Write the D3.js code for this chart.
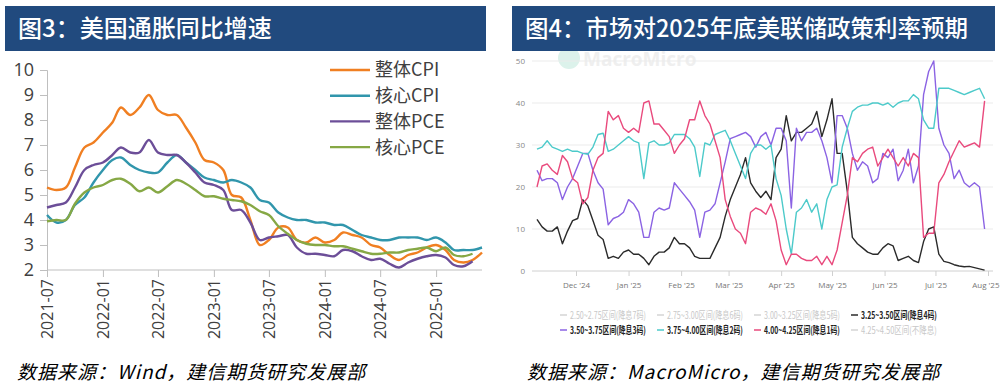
<!DOCTYPE html>
<html>
<head>
<meta charset="utf-8">
<script src="https://cdn.jsdelivr.net/npm/d3@7/dist/d3.min.js"></script>
<style>
  body { margin: 0; background: #fff; }
  svg { display: block; font-family: "Noto Sans CJK SC", "Noto Sans", sans-serif; }
</style>
</head>
<body>
<svg id="chart" width="1001" height="386"></svg>
<script>
// ---- left chart data (monthly, 2021-07 .. 2025-06) ----
let cpi_start = "2021-07";
let cpi_ticks = ["2021-07", "2022-01", "2022-07", "2023-01", "2023-07", "2024-01", "2024-07", "2025-01"];
let y_ticks_left = [2, 3, 4, 5, 6, 7, 8, 9, 10];
let headline_cpi = [5.3, 5.2, 5.3, 6.1, 6.9, 7.1,
  7.5, 7.9, 8.5, 8.2, 8.5, 9.0, 8.4, 8.2, 8.2, 7.7, 7.1, 6.4,
  6.3, 6.0, 5.0, 4.9, 4.0, 3.0, 3.2, 3.7, 3.7, 3.2, 3.1, 3.3,
  3.1, 3.2, 3.5, 3.4, 3.3, 3.0, 2.9, 2.6, 2.4, 2.6, 2.7, 2.9,
  3.0, 2.8, 2.4, 2.3, 2.4, 2.7];
let core_cpi = [4.2, 3.9, 4.0, 4.6, 4.9, 5.5,
  6.0, 6.4, 6.5, 6.2, 6.0, 5.9, 5.9, 6.3, 6.6, 6.3, 6.0, 5.7,
  5.6, 5.5, 5.6, 5.5, 5.3, 4.8, 4.7, 4.3, 4.1, 4.0, 4.0, 3.9,
  3.9, 3.8, 3.8, 3.6, 3.4, 3.3, 3.2, 3.2, 3.3, 3.3, 3.3, 3.2,
  3.3, 3.1, 2.8, 2.8, 2.8, 2.9];
let headline_pce = [4.5, 4.6, 4.7, 5.3, 6.0, 6.2,
  6.3, 6.6, 6.9, 6.7, 6.7, 7.2, 6.7, 6.6, 6.6, 6.3, 5.9, 5.5,
  5.4, 5.2, 4.4, 4.4, 3.9, 3.2, 3.3, 3.35, 3.4, 2.9, 2.65, 2.65,
  2.6, 2.55, 2.8, 2.75, 2.55, 2.4, 2.45, 2.25, 2.1, 2.3, 2.45, 2.55,
  2.6, 2.5, 2.2, 2.15, 2.35];
let core_pce = [3.95, 4.0, 4.0, 4.65, 5.1, 5.3,
  5.4, 5.6, 5.65, 5.45, 5.15, 5.3, 5.1, 5.35, 5.6, 5.45, 5.2, 4.95,
  4.95, 4.85, 4.8, 4.75, 4.6, 4.35, 4.2, 3.75, 3.45, 3.2, 3.05, 3.0,
  3.0, 2.95, 2.95, 2.85, 2.75, 2.65, 2.65, 2.7, 2.7, 2.8, 2.85, 2.9,
  2.75, 2.9, 2.6, 2.55, 2.65];
let left_names = ["整体CPI", "核心CPI", "整体PCE", "核心PCE"];
let left_colors = ["#f07f22", "#3196ac", "#6c4e98", "#86a845"];

// ---- right chart data (every 3 days from 2024-11-08) ----
let rate_start = "2024-11-08";
let rate_step_days = 3;
let x_ticks_right = ["2024-12-01", "2025-01-01", "2025-02-01", "2025-03-01", "2025-04-01", "2025-05-01", "2025-06-01", "2025-07-01", "2025-08-01"];
let x_tick_labels_right = ["Dec '24", "Jan '25", "Feb '25", "Mar '25", "Apr '25", "May '25", "Jun '25", "Jul '25", "Aug '25"];
let y_ticks_right = [0, 10, 20, 30, 40, 50];
let p_325_350 = [12.3, 10.5, 9.5, 9.5, 10.5, 6.5, 9.5, 12, 12.5, 17, 15.5, 12, 8.5, 7.5, 3, 3.5, 3, 4.5, 5, 4, 4,
  3, 1.5, 3.5, 4.5, 4.5, 5.5, 8, 6.5, 6.5, 5.5, 3.5, 3, 3, 3, 5.5, 8, 13, 17, 20, 23, 27,
  21, 19, 17.5, 19, 17, 27, 29, 37, 31, 33, 33, 34, 35, 38, 32, 36, 41, 28, 28, 19, 8, 6.5, 5.5,
  4.5, 4, 4, 5.5, 6.5, 6, 2.5, 3, 3.5, 2.5, 2, 7, 10, 10.5, 4, 2.3, 2, 1.5, 1.2, 1, 1.1, 0.8, 0.5, 0.2];
let p_350_375 = [24, 21.5, 22, 22, 21, 17, 20, 22, 25, 28, 28, 24, 21, 19.5, 11, 12.5, 13, 14, 17, 16, 14,
  8, 8, 14, 15, 14.5, 15, 21, 19.5, 18, 16.5, 14.5, 8, 14, 14.5, 16, 21, 26, 31.5, 32, 32.5, 33,
  32, 29.5, 32, 33, 30, 34, 34, 31, 15, 34, 31, 33, 33, 34, 31, 27, 21, 37, 37, 34, 28, 24, 26,
  25, 21, 22, 28, 27, 29, 21.5, 24, 29, 21, 25, 42, 47.5, 50, 34, 30, 28, 22, 24, 21, 20, 21, 20, 10];
let p_375_400 = [29, 29.5, 31, 29.5, 29, 28.5, 29, 28.5, 28.5, 28, 27.8, 29.5, 32.5, 32.8, 28.5, 29, 30, 31, 32, 31, 30.5,
  22, 30.5, 31, 30, 30, 30.5, 32.5, 32.5, 32.5, 31.5, 29.5, 22.5, 30.5, 30, 32.5, 33, 33.5, 31, 28, 25, 22,
  28, 30, 30, 29, 30, 22, 18, 10, 4, 14, 15, 17, 14, 16, 10, 17, 20, 20.5, 29.5, 34, 38, 39, 39.5,
  39.5, 40, 40, 39.5, 40, 39, 40, 40.5, 40.5, 42, 41, 36, 34, 34, 43.5, 43.5, 43.5, 43, 42.5, 42, 42.5, 43, 43.5, 41];
let p_400_425 = [20, 25, 25.5, 24, 23, 27.5, 26, 22, 21, 16, 17.5, 24, 27, 28, 38, 36, 37, 34, 33, 34, 33,
  40, 40.5, 35, 35, 33.5, 32, 28, 30, 31.5, 36, 36, 40.5, 37, 35, 31, 27, 17, 13, 10, 9, 6.5,
  14, 15, 14.5, 13.5, 16, 12, 5, 1.5, 4, 4, 3, 2.5, 2.5, 3.5, 1.5, 3.5, 1.5, 5, 11.5, 18, 27, 26, 28,
  29, 29.5, 25, 27, 29, 27, 25, 27, 25, 28, 27, 8, 9, 9, 21, 23, 26, 28.5, 31, 29.5, 30, 30.5, 29.5, 40.5];
let legend_labels_right = ["2.50~2.75区间(降息7码)", "2.75~3.00区间(降息6码)", "3.00~3.25区间(降息5码)", "3.25~3.50区间(降息4码)",
  "3.50~3.75区间(降息3码)", "3.75~4.00区间(降息2码)", "4.00~4.25区间(降息1码)", "4.25~4.50区间(不降息)"];
let legend_colors_right = ["#d4d4d4", "#d4d4d4", "#d4d4d4", "#2b2b2b", "#8b63e3", "#4ccaca", "#e94a7d", "#d4d4d4"];
let legend_active_right = [false, false, false, true, true, true, true, false];

let svg = d3.select("#chart");

// header bars
function draw_header(x, w, title, size) {
  svg.append("rect").attr("x", x).attr("y", 6).attr("width", w).attr("height", 45).attr("fill", "#214a7e");
  svg.append("text").attr("x", x + 13).attr("y", 37)
    .attr("fill", "#fff").attr("font-size", size).attr("font-weight", 500)
    .text(title);
}

// ---------------- left chart ----------------
let parse_month = d3.timeParse("%Y-%m");
let months = d3.range(headline_cpi.length).map(i => d3.timeMonth.offset(parse_month(cpi_start), i));

let x_left = d3.scaleTime().domain([months[0], months[months.length - 1]]).range([47, 482]);
let y_left = d3.scaleLinear().domain([2, 10]).range([270, 70]);

let g_left = svg.append("g");

let y_axis_left = d3.axisLeft(y_left).tickValues(y_ticks_left).tickSize(7).tickPadding(6).tickFormat(d3.format("d"));
g_left.append("g").attr("transform", "translate(47,0)").call(y_axis_left)
  .call(g => g.select(".domain").attr("stroke", "#bfbfbf"))
  .call(g => g.selectAll(".tick line").attr("stroke", "#bfbfbf"))
  .call(g => g.selectAll(".tick text").attr("font-size", 18).attr("fill", "#404040").attr("font-family", "'Open Sans', sans-serif"));

let x_axis_left = d3.axisBottom(x_left).tickValues(cpi_ticks.map(parse_month)).tickSize(7).tickFormat(d3.timeFormat("%Y-%m"));
g_left.append("g").attr("transform", "translate(0,270)").call(x_axis_left)
  .call(g => g.select(".domain").attr("stroke", "#bfbfbf").attr("d", "M47,0H482"))
  .call(g => g.selectAll(".tick line").attr("stroke", "#bfbfbf"))
  .call(g => g.selectAll(".tick text")
    .attr("font-size", 16).attr("fill", "#404040").attr("font-family", "'Open Sans', sans-serif")
    .attr("text-anchor", "end").attr("dy", "0.35em")
    .attr("transform", "translate(0,9) rotate(-90)").attr("x", 0).attr("y", 0));

let left_series = [headline_cpi, core_cpi, headline_pce, core_pce];
let line_left = d3.line()
  .x((d, i) => x_left(months[i]))
  .y(d => y_left(d))
  .curve(d3.curveCatmullRom.alpha(0.5));

left_series.forEach((s, k) => {
  g_left.append("path").datum(s)
    .attr("fill", "none").attr("stroke", left_colors[k]).attr("stroke-width", 2.4)
    .attr("d", line_left);
});

// legend
let legend_left = g_left.selectAll(".leg").data(left_names).enter().append("g")
  .attr("transform", (d, i) => "translate(330," + (70 + i * 25.7) + ")");
legend_left.append("line").attr("x1", 0).attr("x2", 40).attr("stroke", (d, i) => left_colors[i]).attr("stroke-width", 2.4);
legend_left.append("text").attr("x", 45).attr("dy", "0.36em").attr("font-size", 18).attr("fill", "#404040").text(d => d);

// ---------------- right chart ----------------
let parse_day = d3.timeParse("%Y-%m-%d");
let days = d3.range(p_325_350.length).map(i => d3.timeDay.offset(parse_day(rate_start), i * rate_step_days));

let x_right = d3.scaleTime().domain([parse_day(rate_start), parse_day("2025-08-01")]).range([537, 988]);
let y_right = d3.scaleLinear().domain([0, 50]).range([271, 61]);

let g_right = svg.append("g");

// watermark
g_right.append("circle").attr("cx", 569).attr("cy", 58).attr("r", 11).attr("fill", "#dcf2eb");
g_right.append("text").attr("x", 583).attr("y", 66).attr("font-size", 19).attr("font-weight", 700)
  .attr("fill", "#efefef").attr("font-family", "'Open Sans', sans-serif").text("MacroMicro");

// grid
g_right.selectAll(".grid").data(y_ticks_right).enter().append("line")
  .attr("x1", 532).attr("x2", 993)
  .attr("y1", d => y_right(d)).attr("y2", d => y_right(d))
  .attr("stroke", d => d == 0 ? "#d0d0d0" : "#ebebeb").attr("stroke-width", 1);

g_right.selectAll(".ylab").data(y_ticks_right).enter().append("text")
  .attr("x", 525).attr("y", d => y_right(d)).attr("dy", "0.35em").attr("text-anchor", "end")
  .attr("font-size", 8).attr("fill", "#888").attr("font-family", "'Open Sans', sans-serif")
  .text(d => d);

let x_axis_right = d3.axisBottom(x_right).tickValues(x_ticks_right.map(parse_day)).tickSize(5).tickPadding(6)
  .tickFormat((d, i) => x_tick_labels_right[i]);
g_right.append("g").attr("transform", "translate(0,271)").call(x_axis_right)
  .call(g => g.select(".domain").remove())
  .call(g => g.selectAll(".tick line").attr("stroke", "#d0d0d0"))
  .call(g => g.selectAll(".tick text").attr("font-size", 8).attr("fill", "#777").attr("font-family", "'Open Sans', sans-serif"))
  .call(g => g.selectAll(".tick:last-of-type text").attr("text-anchor", "end").attr("x", 11));

let right_series = [p_325_350, p_350_375, p_375_400, p_400_425];
let right_colors = [legend_colors_right[3], legend_colors_right[4], legend_colors_right[5], legend_colors_right[6]];
let line_right = d3.line()
  .x((d, i) => x_right(days[i]))
  .y(d => y_right(d));

right_series.forEach((s, k) => {
  g_right.append("path").datum(s)
    .attr("fill", "none").attr("stroke", right_colors[k]).attr("stroke-width", 1.4)
    .attr("stroke-linejoin", "round")
    .attr("d", line_right);
});

// legend (two rows of four), text squeezed horizontally like the source
let legend_right = g_right.selectAll(".legr").data(legend_labels_right).enter().append("g")
  .attr("transform", (d, i) => "translate(" + (560 + (i % 4) * 97) + "," + (315 + Math.floor(i / 4) * 15) + ")");
legend_right.append("line").attr("x1", 0).attr("x2", 7)
  .attr("stroke", (d, i) => legend_colors_right[i]).attr("stroke-width", 1.5);
legend_right.append("text").attr("dy", "0.35em").attr("font-size", 10)
  .attr("font-weight", (d, i) => legend_active_right[i] ? 700 : 400)
  .attr("fill", (d, i) => legend_active_right[i] ? "#222" : "#c8c8c8")
  .text(d => d)
  .each(function () {
    let len = this.getComputedTextLength();
    d3.select(this).attr("transform", "translate(10,0) scale(" + (76 / len) + ",1)");
  });

draw_header(5, 481, "图3：美国通胀同比增速", 24);
draw_header(512, 483, "图4：市场对2025年底美联储政策利率预期", 23.5);

// sources
svg.append("text").attr("x", 17).attr("y", 379).attr("font-size", 19).attr("font-style", "italic")
  .attr("letter-spacing", 1).attr("fill", "#000").text("数据来源：Wind，建信期货研究发展部");
svg.append("text").attr("x", 527).attr("y", 379).attr("font-size", 19).attr("font-style", "italic")
  .attr("letter-spacing", 1).attr("fill", "#000").text("数据来源：MacroMicro，建信期货研究发展部");
</script>
</body>
</html>
